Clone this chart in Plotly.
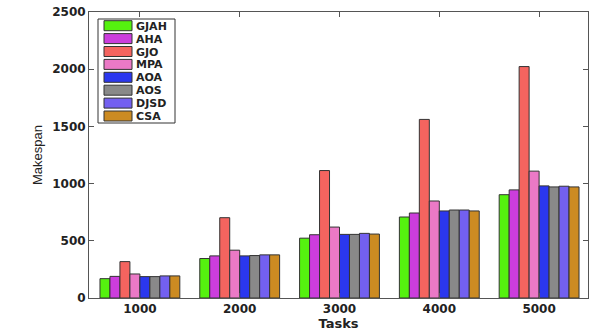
import plotly.graph_objects as go

tasks = ["1000", "2000", "3000", "4000", "5000"]
algorithms = ["GJAH", "AHA", "GJO", "MPA", "AOA", "AOS", "DJSD", "CSA"]
colors = ["#55f20f", "#cc3ddd", "#f4645f", "#eb79c6", "#2b37ee", "#898989", "#7360f0", "#cc8b22"]

GJAH = [169, 345, 523, 708, 903]
AHA = [189, 368, 553, 743, 945]
GJO = [318, 702, 1114, 1561, 2023]
MPA = [210, 418, 620, 848, 1109]
AOA = [187, 368, 556, 761, 980]
AOS = [187, 371, 556, 769, 971]
DJSD = [193, 377, 565, 769, 977]
CSA = [193, 377, 559, 761, 971]
values = [GJAH, AHA, GJO, MPA, AOA, AOS, DJSD, CSA]

W, H = 598, 334
L, R, T, B = 89, 10, 12, 36
pw, ph = W - L - R, H - T - B

def px(x):
    return (x - L) / pw

def py(y):
    return (H - B - y) / ph

fig = go.Figure()
for name, vals, c in zip(algorithms, values, colors):
    fig.add_trace(go.Bar(x=tasks, y=vals, name=name,
                         marker=dict(color=c, line=dict(color="#333333", width=1))))

bold = "DejaVu Sans"
reg = "Liberation Sans, Arial, sans-serif"

# custom legend box (MATLAB style)
shapes = [dict(type="rect", xref="paper", yref="paper", x0=px(98), x1=px(175), y0=py(123), y1=py(19),
               line=dict(color="#333", width=1), fillcolor="white", layer="above")]
annotations = []
for i, (name, c) in enumerate(zip(algorithms, colors)):
    cy = 25.7 + i * 12.9
    shapes.append(dict(type="rect", xref="paper", yref="paper", x0=px(104), x1=px(132),
                       y0=py(cy + 5), y1=py(cy - 5), line=dict(color="#333", width=1),
                       fillcolor=c, layer="above"))
    annotations.append(dict(xref="paper", yref="paper", x=px(134), y=py(cy + 0.5), text="<b>%s</b>" % name,
                            showarrow=False, xanchor="left", yanchor="middle",
                            font=dict(family=bold, size=11, color="#222")))

fig.update_layout(
    width=W, height=H,
    margin=dict(l=L, r=R, t=T, b=B, autoexpand=False),
    plot_bgcolor="white", paper_bgcolor="white",
    barmode="group", bargap=0.2, bargroupgap=0,
    font=dict(family=bold, size=12, color="#222"),
    showlegend=False,
    shapes=shapes, annotations=annotations,
)
fig.update_xaxes(type="category", range=[-0.51, 4.49], showline=True, linecolor="#555", linewidth=1,
                 mirror="ticks", ticks="inside", ticklen=5, tickcolor="#555",
                 tickfont=dict(size=12, family=bold, weight="bold", color="#222"),
                 title=dict(text="Tasks", font=dict(size=13, family=bold, weight="bold", color="#222"),
                            standoff=0))
fig.update_yaxes(range=[0, 2500], dtick=500, showline=True, linecolor="#555", linewidth=1, mirror="ticks",
                 ticks="inside", ticklen=5, tickcolor="#555", showgrid=False, zeroline=False,
                 tickfont=dict(size=12, family=bold, weight="bold", color="#222"),
                 title=dict(text="Makespan", font=dict(size=13, family=reg, color="#222"), standoff=6))
fig.write_html("out.html", config={"displayModeBar": False},
               post_script="document.body.style.margin='0';")
